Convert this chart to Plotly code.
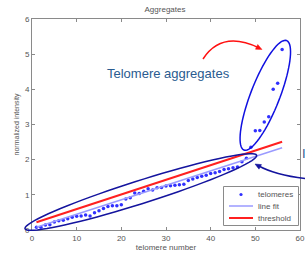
import numpy as np
import plotly.graph_objects as go

# ---- data ----
telomere_idx = list(range(1, 57))
telomere_val = [0.08, 0.08, 0.14, 0.15, 0.23, 0.26, 0.28, 0.32, 0.36, 0.39,
                0.40, 0.43, 0.40, 0.49, 0.55, 0.61, 0.67, 0.69, 0.69, 0.72,
                0.88, 0.92, 1.05, 1.04, 1.10, 1.17, 1.14, 1.20, 1.21, 1.25,
                1.26, 1.27, 1.29, 1.30, 1.41, 1.45, 1.49, 1.53, 1.56, 1.61,
                1.63, 1.66, 1.72, 1.74, 1.77, 1.79, 1.94, 2.04, 2.35, 2.82,
                2.83, 3.07, 3.22, 4.00, 4.17, 5.13]
fit_x = [1, 56]
fit_y = [0.08, 2.34]
thr_x = [1, 56]
thr_y = [0.22, 2.51]
x_ticks = [0, 10, 20, 30, 40, 50, 60]
y_ticks = [0, 1, 2, 3, 4, 5, 6]
legend_names = ["telomeres", "line fit", "threshold"]

MARKER_C = "#3030ff"
FIT_C = "#9a9aff"
THR_C = "#ff2020"

# ---- layout geometry ----
W, H = 305, 254
ML, MR, MT, MB = 32, 5, 19, 24
PW, PH = W - ML - MR, H - MT - MB
FONT = "Liberation Sans, Arial, sans-serif"


def to_paper(px, py):
    return (px - ML) / PW, (H - MB - py) / PH


def ellipse_path(cx, cy, a, b, ang_deg, n=80):
    t = np.linspace(0, 2 * np.pi, n)
    th = np.deg2rad(ang_deg)
    xs = cx + a * np.cos(t) * np.cos(th) - b * np.sin(t) * np.sin(th)
    ys = cy - (a * np.cos(t) * np.sin(th) + b * np.sin(t) * np.cos(th))
    pts = [to_paper(x, y) for x, y in zip(xs, ys)]
    return "M " + " L ".join(f"{x:.4f},{y:.4f}" for x, y in pts) + " Z"


def bezier_path(p0, c, p1):
    a = to_paper(*p0); b = to_paper(*c); d = to_paper(*p1)
    return f"M {a[0]:.4f},{a[1]:.4f} Q {b[0]:.4f},{b[1]:.4f} {d[0]:.4f},{d[1]:.4f}"


def arrow_head(tip, ctrl, size=6, half=2.6):
    tx, ty = tip
    dx, dy = tx - ctrl[0], ty - ctrl[1]
    L = (dx * dx + dy * dy) ** 0.5
    ux, uy = dx / L, dy / L
    bx, by = tx - ux * size, ty - uy * size
    p1 = (bx - uy * half, by + ux * half)
    p2 = (bx + uy * half, by - ux * half)
    pts = [to_paper(*tip), to_paper(*p1), to_paper(*p2)]
    return "M " + " L ".join(f"{x:.4f},{y:.4f}" for x, y in pts) + " Z"


def line_seg(p0, p1, color, width):
    a = to_paper(*p0); b = to_paper(*p1)
    return dict(type="line", xref="paper", yref="paper", x0=a[0], y0=a[1], x1=b[0], y1=b[1],
                line=dict(color=color, width=width))


fig = go.Figure()
fig.add_trace(go.Scatter(x=telomere_idx, y=telomere_val, mode="markers",
                         name=legend_names[0], marker=dict(color=MARKER_C, size=3.5)))
fig.add_trace(go.Scatter(x=fit_x, y=fit_y, mode="lines", name=legend_names[1],
                         line=dict(color=FIT_C, width=1.5)))
fig.add_trace(go.Scatter(x=thr_x, y=thr_y, mode="lines", name=legend_names[2],
                         line=dict(color=THR_C, width=2)))

shapes = [
    dict(type="path", xref="paper", yref="paper",
         path=ellipse_path(140.8, 192.0, 121.5, 11.5, 17.6),
         line=dict(color="#14149e", width=1.5)),
    dict(type="path", xref="paper", yref="paper",
         path=ellipse_path(265.3, 95.3, 58.7, 14.5, 68.7),
         line=dict(color="#1010e0", width=1.5)),
    dict(type="path", xref="paper", yref="paper",
         path=bezier_path((203, 59), (222, 30), (259, 48)),
         line=dict(color="#ff1010", width=1.5)),
    dict(type="path", xref="paper", yref="paper",
         path=arrow_head((262, 49.5), (222, 30)),
         fillcolor="#ff1010", line=dict(color="#ff1010", width=0.5)),
    dict(type="path", xref="paper", yref="paper",
         path=bezier_path((305, 178.5), (275, 175), (258, 165.5)),
         line=dict(color="#14149e", width=1.5)),
    dict(type="path", xref="paper", yref="paper",
         path=arrow_head((255, 164), (275, 175)),
         fillcolor="#14149e", line=dict(color="#14149e", width=0.5)),
]

# manual legend box (compact, matlab-like)
lx0, ly0, lx1, ly1 = 223.5, 186.5, 298.5, 225.5
a0 = to_paper(lx0, ly0); a1 = to_paper(lx1, ly1)
shapes.append(dict(type="rect", xref="paper", yref="paper", x0=a0[0], y0=a1[1], x1=a1[0], y1=a0[1],
                   fillcolor="white", line=dict(color="#8a8a8a", width=1), layer="above"))
row_y = [194.5, 206, 218]
r = 1.6
c0 = to_paper(241 - r, row_y[0] - r); c1 = to_paper(241 + r, row_y[0] + r)
shapes.append(dict(type="circle", xref="paper", yref="paper", x0=c0[0], y0=c1[1], x1=c1[0], y1=c0[1],
                   fillcolor=MARKER_C, line=dict(color=MARKER_C, width=0), layer="above"))
s = line_seg((229, row_y[1]), (253, row_y[1]), FIT_C, 1.5); s["layer"] = "above"; shapes.append(s)
s = line_seg((229, row_y[2]), (253, row_y[2]), THR_C, 2); s["layer"] = "above"; shapes.append(s)

annotations = []
for name, yy in zip(legend_names, row_y):
    px_, py_ = to_paper(256, yy)
    annotations.append(dict(text=name, x=px_, y=py_, xref="paper", yref="paper", showarrow=False,
                            xanchor="left", yanchor="middle",
                            font=dict(family=FONT, size=8, color="#555555")))

tx, ty = to_paper(168, 73)
ix, iy = to_paper(300, 153)
annotations += [
    dict(text="Telomere aggregates", x=tx, y=ty, xref="paper", yref="paper",
         showarrow=False, xanchor="center", yanchor="middle",
         font=dict(family=FONT, size=13, color="#2a5b90")),
    dict(text="I", x=ix, y=iy, xref="paper", yref="paper",
         showarrow=False, xanchor="left", yanchor="middle",
         font=dict(family=FONT, size=13, color="#2a5b90")),
]

axis_common = dict(showline=True, linecolor="#8a8a8a", linewidth=1, mirror="ticks",
                   ticks="inside", ticklen=3, tickcolor="#8a8a8a",
                   showgrid=False, zeroline=False, automargin=False,
                   tickfont=dict(family=FONT, size=8, color="#555555"))

fig.update_layout(
    width=W, height=H,
    margin=dict(l=ML, r=MR, t=MT, b=MB, autoexpand=False),
    paper_bgcolor="white", plot_bgcolor="white",
    font=dict(family=FONT, size=8, color="#555555"),
    title=dict(text="Aggregates", x=165 / W, xanchor="center", y=1 - 9 / H,
               yanchor="middle", font=dict(size=8, color="#555555")),
    xaxis=dict(range=[0, 60], tickvals=x_ticks, title=dict(text="telomere number", standoff=2,
               font=dict(size=8, color="#555555")), **axis_common),
    yaxis=dict(range=[0, 6], tickvals=y_ticks, title=dict(text="normalized intensity", standoff=4,
               font=dict(size=7, color="#555555")), **axis_common),
    shapes=shapes, annotations=annotations,
    showlegend=False,
)

fig.write_html("out.html", config={"displayModeBar": False},
               post_script="document.body.style.margin='0px';document.body.style.overflow='hidden';")
